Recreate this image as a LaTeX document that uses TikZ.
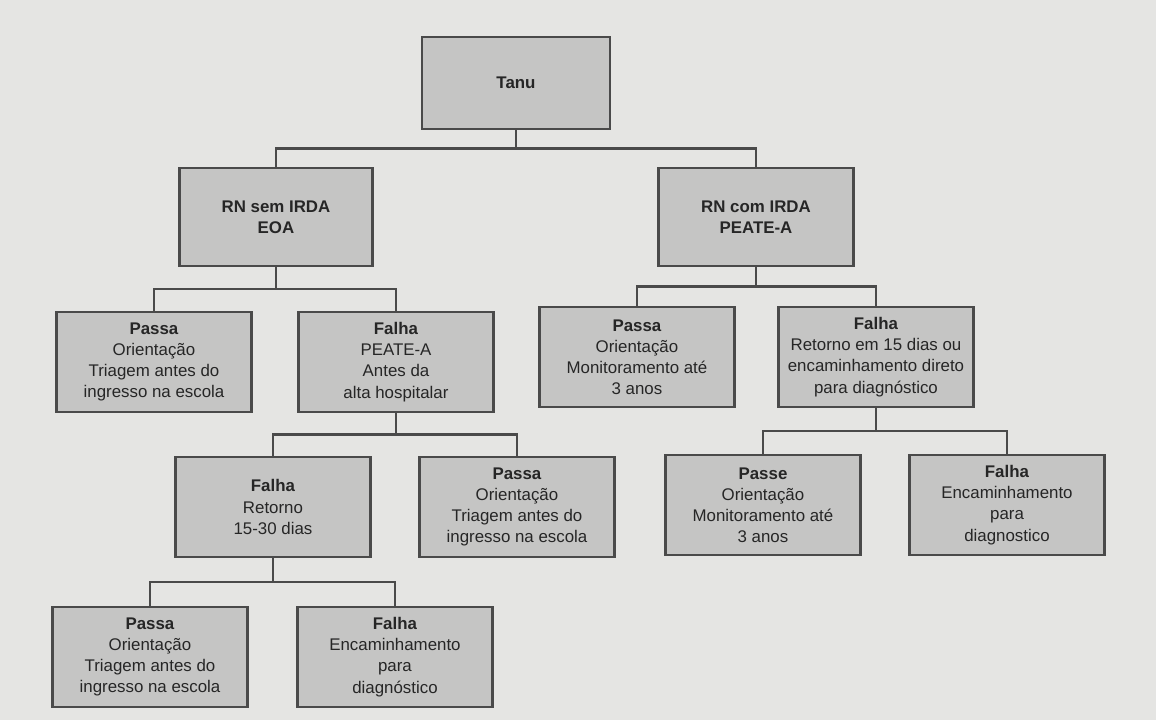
\documentclass[tikz,border=0pt]{standalone}
\usepackage{fontspec}
\setmainfont{Liberation Sans}
\usepackage{tikz}
\usetikzlibrary{calc}
\definecolor{paper}{RGB}{229,229,227}
\definecolor{boxgray}{RGB}{197,197,196}
\definecolor{inkgray}{RGB}{74,74,74}
\definecolor{textgray}{RGB}{38,38,38}

\begin{document}
\begin{tikzpicture}[x=0.25mm, y=-0.25mm]
		\tikzstyle{box}=[draw=inkgray, line width=0.7mm, fill=boxgray, text=textgray, align=center, minimum width=48.75mm, minimum height=25mm, inner sep=2pt, font=\fontsize{12}{15}\selectfont]
		\tikzstyle{fork}=[to path={(\tikztostart) |- ($(\tikztostart)!.5!(\tikztotarget)$) -| (\tikztotarget)}]
		\fill[paper] (0,0) rectangle (1156,720);
		\useasboundingbox (0,0) rectangle (1156,720);
		\node[box, minimum width=47mm, minimum height=23mm] (tanu) at (516, 83) {\textbf{Tanu}};
		\node[box, minimum width=48.25mm, minimum height=24.5mm] (rnsem) at (276, 217) {\textbf{RN sem IRDA}\\\textbf{EOA}};
		\node[box, minimum height=24.5mm] (rncom) at (756, 217) {\textbf{RN com IRDA}\\\textbf{PEATE-A}};
		\node[box] (passa1) at (154, 362) {\textbf{Passa}\\Orientação\\Triagem antes do\\ingresso na escola};
		\node[box] (falha1) at (396, 362) {\textbf{Falha}\\PEATE-A\\Antes da\\alta hospitalar};
		\node[box] (passa2) at (637, 357) {\textbf{Passa}\\Orientação\\Monitoramento até\\3 anos};
		\node[box] (falha2) at (876, 357) {\textbf{Falha}\\Retorno em 15 dias ou\\encaminhamento direto\\para diagnóstico};
		\node[box] (falha11) at (273, 507) {\textbf{Falha}\\Retorno\\15-30 dias};
		\node[box] (passa12) at (517, 507) {\textbf{Passa}\\Orientação\\Triagem antes do\\ingresso na escola};
		\node[box] (passe21) at (763, 505) {\textbf{Passe}\\Orientação\\Monitoramento até\\3 anos};
		\node[box] (falha22) at (1007, 505) {\textbf{Falha}\\Encaminhamento\\para\\diagnostico};
		\node[box] (passa111) at (150, 657) {\textbf{Passa}\\Orientação\\Triagem antes do\\ingresso na escola};
		\node[box] (falha112) at (395, 657) {\textbf{Falha}\\Encaminhamento\\para\\diagnóstico};
		\draw[draw=inkgray, line width=0.7mm]
		                 (tanu.south) edge[fork] (rnsem.north) (tanu.south) edge[fork] (rncom.north)
		                 (rnsem.south) edge[fork] (passa1.north) (rnsem.south) edge[fork] (falha1.north)
		                 (rncom.south) edge[fork] (passa2.north) (rncom.south) edge[fork] (falha2.north)
		                 (falha1.south) edge[fork] (falha11.north) (falha1.south) edge[fork] (passa12.north)
		                 (falha2.south) edge[fork] (passe21.north) (falha2.south) edge[fork] (falha22.north)
		                 (falha11.south) edge[fork] (passa111.north) (falha11.south) edge[fork] (falha112.north);
	\end{tikzpicture}
\end{document}
